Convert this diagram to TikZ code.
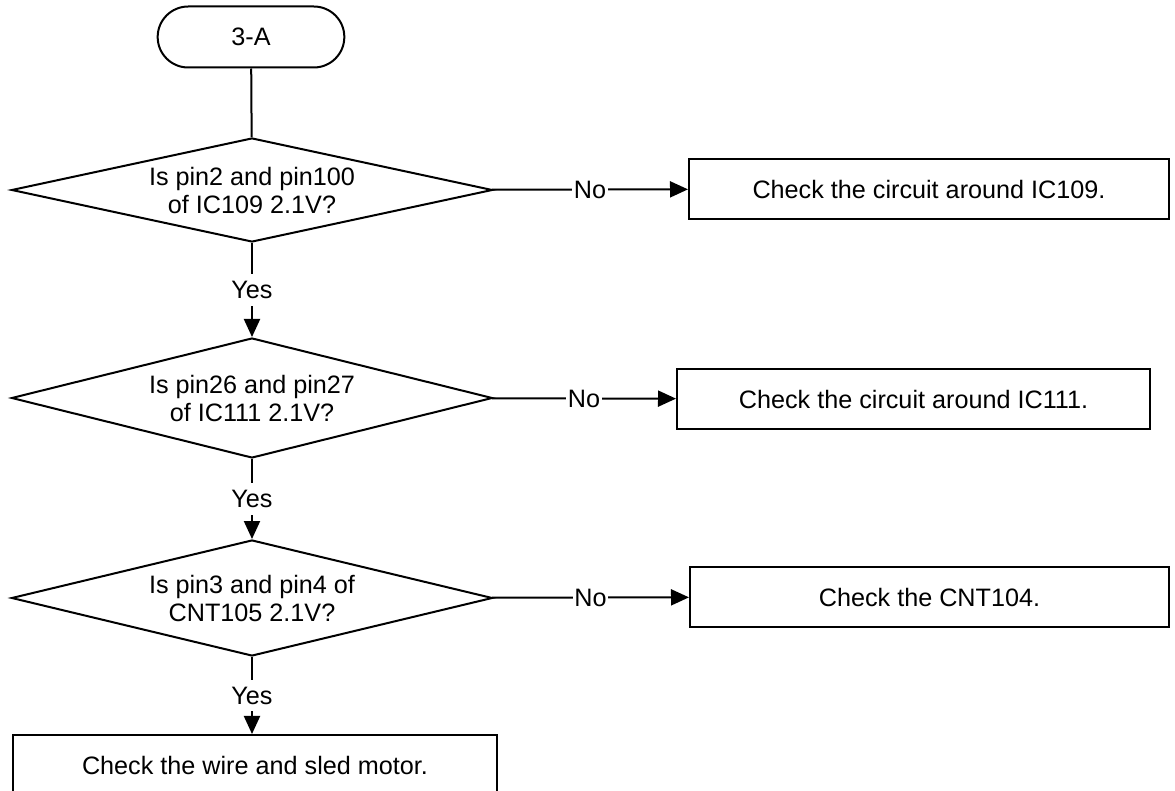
\documentclass[tikz,border=0pt]{standalone}
\usepackage{fontspec}
\setmainfont{Liberation Sans}
\usetikzlibrary{shapes.geometric,shapes.misc,arrows.meta}
\tikzset{
	txt/.style={font=\fontsize{12.6}{14}\selectfont},
	term/.style={txt,rounded rectangle,draw,line width=1pt,minimum width=100pt,minimum height=30.5pt},
	ask/.style={txt,diamond,draw,line width=1pt,aspect=4.5,inner sep=0pt,align=center,minimum width=240.5pt},
	act/.style={txt,rectangle,draw,line width=1pt,minimum height=30pt},
	lbl/.style={txt,fill=white,inner xsep=0.8pt,inner ysep=3.5pt},
	flow/.style={line width=1pt,-{Triangle[length=9pt,width=8pt]}}
}
\begin{document}
\begin{tikzpicture}[x=0.5pt,y=-0.5pt]
	\useasboundingbox (0,0) rectangle (1175,791);
	
	\node[term] (start) at (251,37) {3-A};
	
	\node[ask,minimum height=52pt] (q1) at (252,190) {Is pin2 and pin100\\of IC109 2.1V?};
	\node[ask,minimum height=60pt] (q2) at (252,398) {Is pin26 and pin27\\of IC111 2.1V?};
	\node[ask,minimum height=58pt] (q3) at (252,598) {Is pin3 and pin4 of\\CNT105 2.1V?};
	
	\node[act,minimum width=240pt] (c1) at (929,189) {Check the circuit around IC109.};
	\node[act,minimum width=236.5pt] (c2) at (913.5,399) {Check the circuit around IC111.};
	\node[act,minimum width=239.5pt] (c3) at (929.5,597) {Check the CNT104.};
	\node[act,minimum width=242pt] (fin) at (255,765) {Check the wire and sled motor.};
	
	\draw[line width=1pt] (start) -- (q1);
	
	\draw[flow] (q1) -- node[lbl]{No} (c1);
	\draw[flow] (q2) -- node[lbl]{No} (c2);
	\draw[flow] (q3) -- node[lbl]{No} (c3);
	
	\draw[flow] (q1) -- node[lbl]{Yes} (q2);
	\draw[flow] (q2) -- node[lbl]{Yes} (q3);
	\draw[flow] (q3) -- node[lbl]{Yes} (q3 |- fin.north);
\end{tikzpicture}
\end{document}
